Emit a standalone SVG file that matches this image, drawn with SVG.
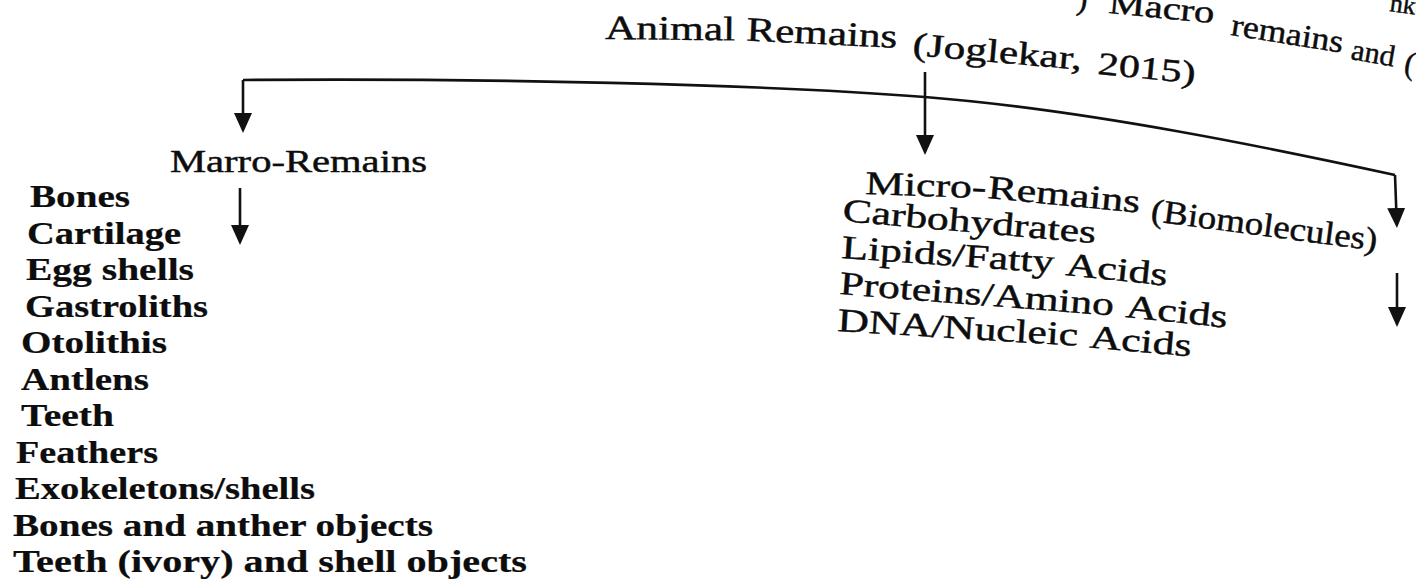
<svg xmlns="http://www.w3.org/2000/svg" width="1416" height="584" viewBox="0 0 1416 584">
  <defs>
    <style>
      .t { font-family: "Liberation Serif", "Times New Roman", serif; fill: #0d0d0d; stroke: #0d0d0d; stroke-width: 0.45; }
      .b { font-weight: bold; stroke-width: 0.2; }
      .ln { fill: none; stroke: #111; stroke-width: 2.6; }
    </style>
    <marker id="ah" markerUnits="userSpaceOnUse" markerWidth="20" markerHeight="18" viewBox="0 0 20 18" refX="8" refY="9" orient="auto">
      <path d="M0,0 L20,9 L0,18 z" fill="#111"/>
    </marker>
  </defs>
  <rect width="1416" height="584" fill="#fff"/>

  <g id="fragment-top">
    <text class="t" font-size="32" x="1076" y="9" transform="rotate(6 1076 9)">)</text>
    <text class="t" font-size="32" x="1108" y="13" transform="rotate(5.5 1108 13)" textLength="106" lengthAdjust="spacingAndGlyphs">Macro</text>
    <text class="t" font-size="32" x="1230" y="35" transform="rotate(9 1230 35)" textLength="113" lengthAdjust="spacingAndGlyphs">remains</text>
    <text class="t" font-size="30" x="1350" y="59" transform="rotate(10 1350 59)" textLength="44" lengthAdjust="spacingAndGlyphs">and</text>
    <text class="t" font-size="32" x="1403" y="73" transform="rotate(10 1403 73)">(</text>
    <text class="t" font-size="26" x="1389" y="11" transform="rotate(8 1389 11)">nke</text>
  </g>

  <g id="root-animal-remains">
    <text class="t" font-size="34" x="605" y="39" transform="rotate(0.6 605 39)" textLength="130" lengthAdjust="spacingAndGlyphs">Animal</text>
    <text class="t" font-size="34" x="746" y="40.5" transform="rotate(2.8 746 40.5)" textLength="151" lengthAdjust="spacingAndGlyphs">Remains</text>
    <text class="t" font-size="33" x="912" y="55" transform="rotate(5 912 55)" textLength="170" lengthAdjust="spacingAndGlyphs">(Joglekar,</text>
    <text class="t" font-size="32" x="1097" y="74" transform="rotate(5.5 1097 74)" textLength="98" lengthAdjust="spacingAndGlyphs">2015)</text>
  </g>

  <g id="macro-remains">
    <text class="t" font-size="31" x="170" y="172" textLength="257" lengthAdjust="spacingAndGlyphs">Marro-Remains</text>
    <text class="t b" font-size="31" x="30" y="207" textLength="100" lengthAdjust="spacingAndGlyphs">Bones</text>
    <text class="t b" font-size="31" x="27" y="243.5" textLength="154" lengthAdjust="spacingAndGlyphs">Cartilage</text>
    <text class="t b" font-size="31" x="26" y="280" textLength="168" lengthAdjust="spacingAndGlyphs">Egg shells</text>
    <text class="t b" font-size="31" x="25" y="316.5" textLength="183" lengthAdjust="spacingAndGlyphs">Gastroliths</text>
    <text class="t b" font-size="31" x="21" y="353" textLength="146" lengthAdjust="spacingAndGlyphs">Otolithis</text>
    <text class="t b" font-size="31" x="21" y="389.5" textLength="128" lengthAdjust="spacingAndGlyphs">Antlens</text>
    <text class="t b" font-size="31" x="21" y="426" textLength="93" lengthAdjust="spacingAndGlyphs">Teeth</text>
    <text class="t b" font-size="31" x="16" y="462.5" textLength="142" lengthAdjust="spacingAndGlyphs">Feathers</text>
    <text class="t b" font-size="31" x="15" y="499" textLength="300" lengthAdjust="spacingAndGlyphs">Exokeletons/shells</text>
    <text class="t b" font-size="31" x="13" y="535.5" textLength="420" lengthAdjust="spacingAndGlyphs">Bones and anther objects</text>
    <text class="t b" font-size="31" x="13" y="572" textLength="514" lengthAdjust="spacingAndGlyphs">Teeth (ivory) and shell objects</text>
  </g>

  <g id="micro-remains">
    <text class="t" font-size="33" x="865" y="194" transform="rotate(2 865 194)" textLength="121" lengthAdjust="spacingAndGlyphs">Micro-</text>
    <text class="t" font-size="33" x="987" y="198" transform="rotate(5.5 987 198)" textLength="153" lengthAdjust="spacingAndGlyphs">Remains</text>
    <text class="t" font-size="33" x="1150" y="221" transform="rotate(7.5 1150 221)" textLength="228" lengthAdjust="spacingAndGlyphs">(Biomolecules)</text>
    <text class="t" font-size="33" x="842" y="221" transform="rotate(5 842 221)" textLength="254" lengthAdjust="spacingAndGlyphs">Carbohydrates</text>
    <text class="t" font-size="33" x="841" y="258" transform="rotate(4 841 258)" textLength="213" lengthAdjust="spacingAndGlyphs">Lipids/Fatty</text>
    <text class="t" font-size="33" x="1065" y="275" transform="rotate(6 1065 275)" textLength="102" lengthAdjust="spacingAndGlyphs">Acids</text>
    <text class="t" font-size="33" x="839" y="294" transform="rotate(4.5 839 294)" textLength="275" lengthAdjust="spacingAndGlyphs">Proteins/Amino</text>
    <text class="t" font-size="33" x="1125" y="317" transform="rotate(6 1125 317)" textLength="102" lengthAdjust="spacingAndGlyphs">Acids</text>
    <text class="t" font-size="33" x="837" y="331" transform="rotate(3.5 837 331)" textLength="241" lengthAdjust="spacingAndGlyphs">DNA/Nucleic</text>
    <text class="t" font-size="33" x="1089" y="347.5" transform="rotate(5 1089 347.5)" textLength="102" lengthAdjust="spacingAndGlyphs">Acids</text>
  </g>

  <g id="connectors">
    <path class="ln" d="M243,80 C480,78 760,84 925,97 C1090,110 1280,150 1395,175"/>
    <path class="ln" d="M243,80 L243,121" marker-end="url(#ah)"/>
    <path class="ln" d="M925,72 L925,143" marker-end="url(#ah)"/>
    <path class="ln" d="M1395,175 L1396.5,216" marker-end="url(#ah)"/>
    <path class="ln" d="M1397,273 L1397,315" marker-end="url(#ah)"/>
    <path class="ln" d="M240,188 L240,233" marker-end="url(#ah)"/>
  </g>
</svg>
